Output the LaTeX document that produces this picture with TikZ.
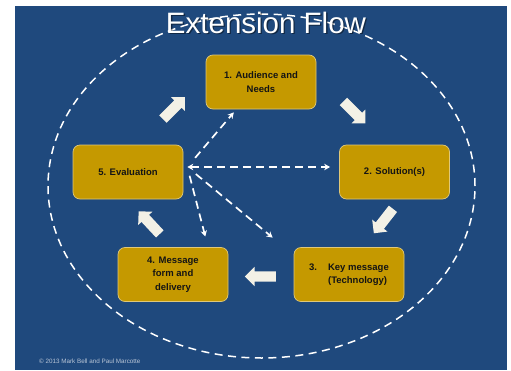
\documentclass[tikz,border=0pt]{standalone}
\usepackage{fontspec}
\setmainfont{Liberation Sans}
\usepackage{tikz}
\usetikzlibrary{positioning}
\usetikzlibrary{calc,shapes.arrows,arrows.meta}

\definecolor{slideblue}{RGB}{31,73,125}
\definecolor{boxgold}{RGB}{197,153,0}
\definecolor{boxedge}{RGB}{224,200,120}
\definecolor{arrowcream}{RGB}{243,241,230}
\definecolor{notegrey}{RGB}{185,197,214}

\tikzset{
	stepbox/.style={draw=boxedge, line width=0.7pt, fill=boxgold, rounded corners=7pt,
		minimum width=110pt, minimum height=54pt, inner sep=2pt, align=center,
		text=black!92, font=\fontsize{9.5}{13.5}\selectfont\bfseries},
	flowarrow/.style={single arrow, draw=none, fill=arrowcream, inner xsep=0pt, inner ysep=5pt,
		minimum height=31pt, single arrow head extend=4.5pt, single arrow head indent=0pt},
	link/.style={white, line width=1.7pt, dash pattern=on 8pt off 5pt,
		-{Stealth[length=6pt,width=6.5pt]}},
	ring/.style={white, line width=1.5pt, dash pattern=on 8pt off 5.5pt},
}

\begin{document}
\begin{tikzpicture}[x=1pt, y=-1pt]

	% ------------------------------------------------
	% Ensure the dimensions of graphic are appropriate
	\useasboundingbox (0,0) rectangle (511,370);
	\fill[slideblue] (15,6) rectangle (507,370);

	% ------------------------------------------------
	% Relevant coordinates
	\coordinate (AudC) at (261,82);
	
	\path (AudC)  +(-133,90)   coordinate (EvalC);
	\path (AudC)  +(133.5,90)  coordinate (SolC);
	\path (EvalC) +(45,102.5)  coordinate (MsgC);
	\path (SolC)  +(-45.5,102.5) coordinate (KeyC);

	% ----------------
	% Dashed ring
	\draw[ring] (261.5,186) ellipse [x radius=213.5pt, y radius=172pt];

	% ----------------
	% Title
	\node[font=\fontsize{29.5}{30}\selectfont, text=black, opacity=0.45, anchor=base] (TitleShadow) at (267.3,34.3) {Extension Flow};
	\node[font=\fontsize{29.5}{30}\selectfont, text=white, anchor=base] (Title) at (266,33) {Extension Flow};

	% ----------------
	% Steps
	\node[stepbox] (Aud)  at (AudC)  {1. Audience and\\Needs};
	\node[stepbox] (Sol)  at (SolC)  {2. Solution(s)};
	\node[stepbox] (Key)  at (KeyC)  {\begin{tabular}{@{}l@{\hspace{11pt}}l@{}}3.&Key message\\&(Technology)\end{tabular}};
	\node[stepbox] (Msg)  at (MsgC)  {4. Message\\form and\\delivery};
	\node[stepbox] (Eval) at (EvalC) {5. Evaluation};

	% ----------------
	% Block arrows
	\node[flowarrow, rotate=45]   (ArrEvalAud) at (172,110)     {};
	\node[flowarrow, rotate=-45]  (ArrAudSol)  at (352.5,110.5) {};
	\node[flowarrow, rotate=-128] (ArrSolKey)  at (385,219)     {};
	\node[flowarrow, rotate=180]  (ArrKeyMsg)  at (263,276.5)   {};
	\node[flowarrow, rotate=133]  (ArrMsgEval) at (151,224.5)   {};

	%%%%%%%%%%%%%%%%%%%%%%%%%%%%%%%%%%%%%%%%%
	% Feedback links
	\path (Eval.east)       +(4,-5)     coordinate (Hub);
	\path (Key.north west)  +(-21,-9.5) coordinate (KeyTip);

	\draw[link, {Stealth[length=6pt,width=6.5pt]}-{Stealth[length=6pt,width=6.5pt]}, shorten >=9pt] (Hub) -- (Sol.west |- Hub);
	\draw[link, shorten <=12pt, shorten >=4pt] (Hub) -- (Aud.228);
	\draw[link, shorten <=9pt, shorten >=11pt] (Hub) -- (Msg.38);
	\draw[link, shorten <=11pt] (Hub) -- (KeyTip);

	% ----------------
	% Credit line
	\node[font=\fontsize{6.3}{7.5}\selectfont, text=notegrey, anchor=base west, inner sep=0pt] (Credit) at (39,363.5) {\textcopyright{} 2013 Mark Bell and Paul Marcotte};

\end{tikzpicture}
\end{document}
